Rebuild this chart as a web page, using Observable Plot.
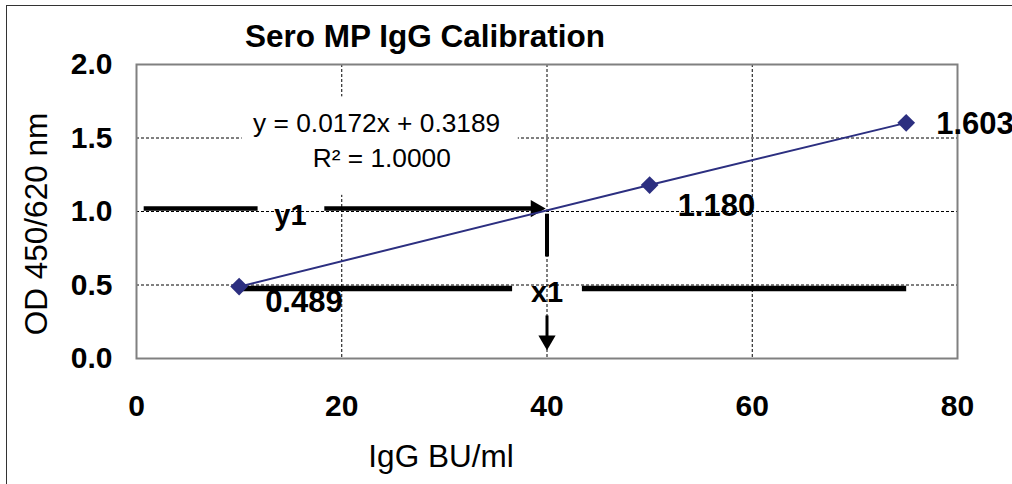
<!DOCTYPE html>
<html><head><meta charset="utf-8">
<script src="https://cdn.jsdelivr.net/npm/d3@7"></script>
<script src="https://cdn.jsdelivr.net/npm/@observablehq/plot@0.6"></script>
<style>
html,body{margin:0;padding:0;background:#fff;overflow:hidden;width:1012px;height:484px;}
#chart{position:absolute;left:0;top:0;}
#frame{position:absolute;left:6px;top:5px;width:1100px;height:600px;border:1.5px solid #333;box-sizing:border-box;pointer-events:none;}
</style></head><body>
<div id="chart"></div><div id="frame"></div>
<script>
// ---- data ----
const concentrations = [10, 50, 75];          // IgG BU/ml
const odValues = [0.489, 1.180, 1.603];       // OD 450/620 nm
const pointLabels = ["0.489", "1.180", "1.603"];
const xTicks = [0, 20, 40, 60, 80];
const yTicks = [0, 0.5, 1.0, 1.5, 2.0];
const xGridValues = [20, 40, 60];
const yGridValues = [0.5, 1.0, 1.5];
const titleText = "Sero MP IgG Calibration";
const xLabelText = "IgG BU/ml";
const yLabelText = "OD 450/620 nm";
const equationLines = ["y = 0.0172x + 0.3189", "R² = 1.0000"];
const equationX = [23.4, 23.9];
const equationY = [1.595, 1.357];
const equationBox = [{x1: 10.3, x2: 37.2, y1: 1.11, y2: 1.78}];
// reading annotation (y1 -> x1)
const y1Level = 1.02;
const y1Segments = [{x1: 0.7, x2: 11.8}, {x1: 18.3, x2: 38.6}];
const y1LabelX = 15.0;
const x1Value = 40;
const x1DropSegment = [{y1: 0.985, y2: 0.694}];
const x1Level = 0.477;
const x1Segments = [{x1: 9.9, x2: 36.6}, {x1: 43.4, x2: 75.0}];
const x1ArrowShaft = [{y1: 0.293, y2: 0.13}];
const x1ArrowHeadY = 0.123;
const y1ArrowHeadX = 38.9;

const points = concentrations.map((x, i) => ({x, y: odValues[i], label: pointLabels[i], i}));
const FONT = "'Liberation Sans', Arial, Helvetica, sans-serif";
const navy = "#2c2f80";

const labelOffsets = [[26, 15], [28, 21], [30, 1.5]];

const chart = Plot.plot({
  width: 1012,
  height: 484,
  marginLeft: 136,
  marginRight: 55,
  marginTop: 64,
  marginBottom: 126,
  style: {fontFamily: FONT, background: "transparent", overflow: "visible"},
  x: {domain: [0, 80], ticks: xTicks},
  y: {domain: [0, 2], ticks: yTicks},
  marks: [
    Plot.gridX(xGridValues, {stroke: "#000", strokeOpacity: 1, strokeWidth: 1, strokeDasharray: "3,2"}),
    Plot.gridY(yGridValues, {stroke: "#000", strokeOpacity: 1, strokeWidth: 1, strokeDasharray: "3,2"}),
    Plot.rect(equationBox, {x1: "x1", x2: "x2", y1: "y1", y2: "y2", fill: "white"}),
    Plot.frame({stroke: "#808080", strokeWidth: 2}),
    Plot.axisX(xTicks, {tickSize: 0, tickPadding: 35.7, fontSize: 30, fontWeight: "bold", fill: "#000", tickFormat: d3.format("d"), label: null}),
    Plot.axisY(yTicks, {tickSize: 0, tickPadding: 24, fontSize: 30, fontWeight: "bold", fill: "#000", tickFormat: d3.format(".1f"), label: null}),
    // equation
    Plot.text(equationLines, {x: (d, i) => equationX[i], y: (d, i) => equationY[i], text: d => d, fontSize: 26.3, fill: "#000"}),
    // y1 horizontal reading line
    Plot.link(y1Segments, {x1: "x1", x2: "x2", y1: () => y1Level, y2: () => y1Level, stroke: "#000", strokeWidth: 4.5}),
    Plot.dot([y1ArrowHeadX], {x: d => d, y: () => y1Level, symbol: "triangle", r: 6.4, fill: "#000", rotate: 90}),
    Plot.text(["y1"], {x: () => y1LabelX, y: () => y1Level, text: d => d, fontSize: 29, fontWeight: "bold", dy: 7, fill: "#000"}),
    // x1 drop
    Plot.link(x1DropSegment, {x1: () => x1Value, x2: () => x1Value, y1: "y1", y2: "y2", stroke: "#000", strokeWidth: 4}),
    Plot.link(x1Segments, {x1: "x1", x2: "x2", y1: () => x1Level, y2: () => x1Level, stroke: "#000", strokeWidth: 5.5}),
    Plot.text(["x1"], {x: () => x1Value, y: () => x1Level, text: d => d, fontSize: 29, fontWeight: "bold", dy: 4, fill: "#000"}),
    Plot.link(x1ArrowShaft, {x1: () => x1Value, x2: () => x1Value, y1: "y1", y2: "y2", stroke: "#000", strokeWidth: 3}),
    Plot.dot([x1ArrowHeadY], {x: () => x1Value, y: d => d, symbol: "triangle", r: 6.4, fill: "#000", rotate: 180}),
    // calibration line and points
    Plot.line(points, {x: "x", y: "y", stroke: navy, strokeWidth: 2}),
    Plot.dot(points, {x: "x", y: "y", symbol: "diamond2", r: 8, fill: navy, stroke: "none"}),
    ...points.map((p, i) => Plot.text([p], {x: "x", y: "y", text: "label", textAnchor: "start", dx: labelOffsets[i][0], dy: labelOffsets[i][1], fontSize: 31, fontWeight: "bold", fill: "#000"})),
    // titles
    Plot.text([titleText], {frameAnchor: "top", textAnchor: "middle", lineAnchor: "middle", text: d => d, dx: -122, dy: -27.1, fontSize: 31.5, fontWeight: "bold", fill: "#000"}),
    Plot.text([xLabelText], {frameAnchor: "bottom", textAnchor: "middle", lineAnchor: "middle", text: d => d, dx: -106, dy: 98.9, fontSize: 31.5, fill: "#000"}),
    Plot.text([yLabelText], {frameAnchor: "left", textAnchor: "middle", lineAnchor: "middle", text: d => d, rotate: -90, dx: -100, dy: 12.5, fontSize: 31.5, fill: "#000"})
  ]
});
document.getElementById("chart").appendChild(chart);
</script>
</body></html>
